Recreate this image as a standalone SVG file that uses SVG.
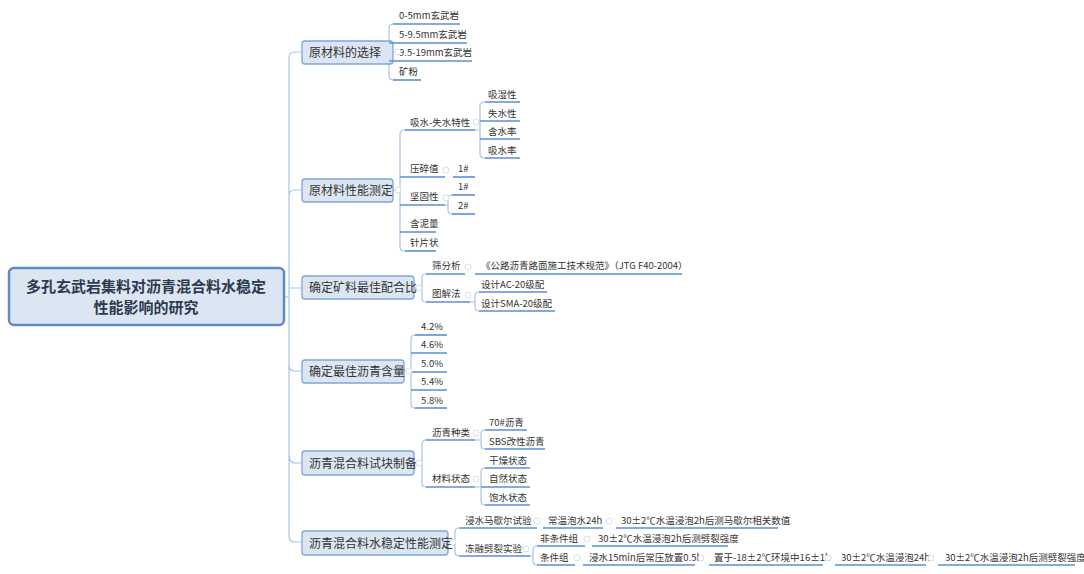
<svg xmlns="http://www.w3.org/2000/svg" width="1084" height="574" viewBox="0 0 1084 574">
<style>
text{font-family:"Microsoft YaHei","Noto Sans CJK SC",sans-serif;fill:#333}
.l{font-size:9.5px}
.b{font-size:12px}
.r{font-size:15px;font-weight:bold;fill:#2b3a4e}
.c{fill:none;stroke:#a8c3e6;stroke-width:1.2}
.u{stroke:#5b8fd6;stroke-width:1.6}
.bx{fill:#dce6f2;stroke:#7fa6d8;stroke-width:1.3}
.k{fill:#fff;stroke:#cfd8e3;stroke-width:0.8}
</style>
<rect width="1084" height="574" fill="#fff"/>
<g id="connectors">
<path class="c" d="M284,297 H289 M289,297 V58 Q289,52 295,52 H302 M289,297 V196 Q289,190 295,190 H302 M289,297 V536 Q289,542 295,542 H302 M289,297 V454 Q289,463 295,463 H302 M289,297 V365 Q289,371 295,371 H302 M289,288 Q289,288 295,288 H302"/>
<path class="c" d="M393,52 H389 M389,52 V28 Q389,24 393,24 M389,52 V43 M389,52 V61 M389,52 V76 Q389,80 393,80"/>
<path class="c" d="M393,190 H400 M400,190 V134 Q400,130 405,130 M400,190 V177 M400,190 V205 M400,190 V232 M400,190 V247 Q400,251 405,251"/>
<path class="c" d="M475,130 H480 M480,130 V106 Q480,102 485,102 M480,130 V121 M480,130 V139 M480,130 V154 Q480,158 485,158"/>
<path class="c" d="M445,205 H448 M448,205 V199 Q448,195 452,195 M448,205 V210 Q448,214 452,214"/>
<path class="c" d="M414,288 H422 M422,288 V278 Q422,274 426,274 M422,288 V298 Q422,302 426,302"/>
<path class="c" d="M470,302 H475 M475,302 V296 Q475,292 479,292 M475,302 V307 Q475,311 479,311"/>
<path class="c" d="M404,371 H411 M411,371 V339 Q411,335 415,335 M411,371 V353 M411,371 V390 M411,371 V404 Q411,408 415,408"/>
<path class="c" d="M414,463 H422 M422,463 V444 Q422,440 426,440 M422,463 V483 Q422,487 426,487"/>
<path class="c" d="M475,440 H481 M481,440 V434 Q481,430 485,430 M481,440 V445 Q481,449 485,449"/>
<path class="c" d="M475,487 H481 M481,487 V472 Q481,468 485,468 M481,487 V501 Q481,505 485,505"/>
<path class="c" d="M448,542 H455 M455,542 V532 Q455,528 459,528 M455,542 V552 Q455,556 459,556"/>
<path class="c" d="M530,556 H533 M533,556 V550 Q533,546 537,546 M533,556 V561 Q533,565 537,565"/>
</g>
<g id="root"><rect x="9" y="268" width="275" height="57" rx="5" fill="#dce6f2" stroke="#5b8bc9" stroke-width="2.5"/>
<text class="r" x="146" y="292" text-anchor="middle">多孔玄武岩集料对沥青混合料水稳定</text>
<text class="r" x="146" y="313" text-anchor="middle">性能影响的研究</text></g>
<g id="b1"><rect class="bx" x="302" y="41" width="91" height="23" rx="3"/><text class="b" x="309" y="57">原材料的选择</text></g>
<g id="b2"><rect class="bx" x="302" y="179" width="91" height="23" rx="3"/><text class="b" x="309" y="195">原材料性能测定</text></g>
<g id="b3"><rect class="bx" x="302" y="276" width="112" height="23" rx="3"/><text class="b" x="309" y="292">确定矿料最佳配合比</text></g>
<g id="b4"><rect class="bx" x="302" y="360" width="102" height="23" rx="3"/><text class="b" x="309" y="376">确定最佳沥青含量</text></g>
<g id="b5"><rect class="bx" x="302" y="451" width="112" height="24" rx="3"/><text class="b" x="309" y="468">沥青混合料试块制备</text></g>
<g id="b6"><rect class="bx" x="302" y="531" width="146" height="24" rx="3"/><text class="b" x="309" y="548">沥青混合料水稳定性能测定</text></g>
<g id="leaves">
<g id="n1"><text class="l" x="399" y="19">0-5mm玄武岩</text><line class="u" x1="393" y1="24" x2="460" y2="24"/></g>
<g id="n2"><text class="l" x="399" y="38">5-9.5mm玄武岩</text><line class="u" x1="389" y1="43" x2="467" y2="43"/></g>
<g id="n3"><text class="l" x="399" y="56">9.5-19mm玄武岩</text><line class="u" x1="389" y1="61" x2="472" y2="61"/></g>
<g id="n4"><text class="l" x="399" y="75">矿粉</text><line class="u" x1="393" y1="80" x2="421" y2="80"/></g>
<g id="n5"><text class="l" x="410" y="126">吸水-失水特性</text><line class="u" x1="405" y1="130" x2="475" y2="130"/></g>
<g id="n6"><text class="l" x="488" y="98">吸湿性</text><line class="u" x1="485" y1="102" x2="520" y2="102"/></g>
<g id="n7"><text class="l" x="488" y="117">失水性</text><line class="u" x1="480" y1="121" x2="520" y2="121"/></g>
<g id="n8"><text class="l" x="488" y="135">含水率</text><line class="u" x1="480" y1="139" x2="520" y2="139"/></g>
<g id="n9"><text class="l" x="488" y="154">吸水率</text><line class="u" x1="485" y1="158" x2="520" y2="158"/></g>
<g id="n10"><text class="l" x="410" y="172">压碎值</text><line class="u" x1="400" y1="177" x2="445" y2="177"/></g>
<g id="n11"><text class="l" x="458" y="172">1#</text><line class="u" x1="453" y1="177" x2="475" y2="177"/></g>
<g id="n12"><text class="l" x="410" y="200">坚固性</text><line class="u" x1="400" y1="205" x2="445" y2="205"/></g>
<g id="n13"><text class="l" x="458" y="190">1#</text><line class="u" x1="452" y1="195" x2="475" y2="195"/></g>
<g id="n14"><text class="l" x="458" y="209">2#</text><line class="u" x1="452" y1="214" x2="475" y2="214"/></g>
<g id="n15"><text class="l" x="410" y="227">含泥量</text><line class="u" x1="400" y1="232" x2="436" y2="232"/></g>
<g id="n16"><text class="l" x="410" y="246">针片状</text><line class="u" x1="405" y1="251" x2="436" y2="251"/></g>
<g id="n17"><text class="l" x="432" y="269">筛分析</text><line class="u" x1="426" y1="274" x2="465" y2="274"/></g>
<g id="n18"><text class="l" x="481" y="269">《公路沥青路面施工技术规范》（JTG  F40-2004）</text><line class="u" x1="475" y1="274" x2="682" y2="274"/></g>
<g id="n19"><text class="l" x="432" y="297">图解法</text><line class="u" x1="426" y1="302" x2="470" y2="302"/></g>
<g id="n20"><text class="l" x="481" y="288">设计AC-20级配</text><line class="u" x1="479" y1="292" x2="547" y2="292"/></g>
<g id="n21"><text class="l" x="481" y="307">设计SMA-20级配</text><line class="u" x1="479" y1="311" x2="555" y2="311"/></g>
<g id="n22"><text class="l" x="421" y="330">4.2%</text><line class="u" x1="415" y1="335" x2="447" y2="335"/></g>
<g id="n23"><text class="l" x="421" y="348">4.6%</text><line class="u" x1="411" y1="353" x2="447" y2="353"/></g>
<g id="n24"><text class="l" x="421" y="367">5.0%</text><line class="u" x1="411" y1="372" x2="447" y2="372"/></g>
<g id="n25"><text class="l" x="421" y="385">5.4%</text><line class="u" x1="411" y1="390" x2="447" y2="390"/></g>
<g id="n26"><text class="l" x="421" y="404">5.8%</text><line class="u" x1="415" y1="408" x2="447" y2="408"/></g>
<g id="n27"><text class="l" x="432" y="436">沥青种类</text><line class="u" x1="426" y1="440" x2="475" y2="440"/></g>
<g id="n28"><text class="l" x="489" y="426">70#沥青</text><line class="u" x1="485" y1="430" x2="527" y2="430"/></g>
<g id="n29"><text class="l" x="489" y="445">SBS改性沥青</text><line class="u" x1="485" y1="449" x2="545" y2="449"/></g>
<g id="n30"><text class="l" x="432" y="482">材料状态</text><line class="u" x1="426" y1="487" x2="475" y2="487"/></g>
<g id="n31"><text class="l" x="489" y="464">干燥状态</text><line class="u" x1="485" y1="468" x2="530" y2="468"/></g>
<g id="n32"><text class="l" x="489" y="482">自然状态</text><line class="u" x1="481" y1="487" x2="530" y2="487"/></g>
<g id="n33"><text class="l" x="489" y="501">饱水状态</text><line class="u" x1="485" y1="505" x2="530" y2="505"/></g>
<g id="n34"><text class="l" x="465" y="524">浸水马歇尔试验</text><line class="u" x1="459" y1="528" x2="537" y2="528"/></g>
<g id="n35"><text class="l" x="548" y="524">常温泡水24h</text><line class="u" x1="543" y1="528" x2="603" y2="528"/></g>
<g id="n36"><text class="l" x="621" y="524">30±2℃水温浸泡2h后测马歇尔相关数值</text><line class="u" x1="616" y1="528" x2="778" y2="528"/></g>
<g id="n37"><text class="l" x="465" y="552">冻融劈裂实验</text><line class="u" x1="459" y1="556" x2="530" y2="556"/></g>
<g id="n38"><text class="l" x="540" y="542">非条件组</text><line class="u" x1="537" y1="546" x2="585" y2="546"/></g>
<g id="n39"><text class="l" x="598" y="542">30±2℃水温浸泡2h后测劈裂强度</text><line class="u" x1="592" y1="546" x2="728" y2="546"/></g>
<g id="n40"><text class="l" x="540" y="561">条件组</text><line class="u" x1="537" y1="565" x2="575" y2="565"/></g>
<g id="n41"><text class="l" x="589" y="561">浸水15min后常压放置0.5h</text><line class="u" x1="583" y1="565" x2="695" y2="565"/></g>
<g id="n42"><text class="l" x="714" y="561">置于-18±2℃环境中16±1h</text><line class="u" x1="709" y1="565" x2="823" y2="565"/></g>
<g id="n43"><text class="l" x="841" y="561">30±2℃水温浸泡24h</text><line class="u" x1="835" y1="565" x2="926" y2="565"/></g>
<g id="n44"><text class="l" x="945" y="561">30±2℃水温浸泡2h后测劈裂强度</text><line class="u" x1="938" y1="565" x2="1075" y2="565"/></g>
</g>
<g id="toggles">
<circle class="k" cx="398" cy="52" r="3"/><circle class="k" cx="398" cy="190" r="3"/><circle class="k" cx="419" cy="288" r="3"/><circle class="k" cx="409" cy="371" r="3"/><circle class="k" cx="419" cy="463" r="3"/><circle class="k" cx="453" cy="542" r="3"/>
<circle class="k" cx="476" cy="122" r="3"/><circle class="k" cx="446" cy="170" r="3"/><circle class="k" cx="446" cy="198" r="3"/><circle class="k" cx="468" cy="267" r="3"/><circle class="k" cx="468" cy="295" r="3"/><circle class="k" cx="476" cy="433" r="3"/><circle class="k" cx="476" cy="479" r="3"/><circle class="k" cx="537" cy="521" r="3"/><circle class="k" cx="609" cy="521" r="3"/><circle class="k" cx="526" cy="549" r="3"/><circle class="k" cx="587" cy="539" r="3"/><circle class="k" cx="577" cy="558" r="3"/><circle class="k" cx="701" cy="558" r="3"/><circle class="k" cx="828" cy="558" r="3"/><circle class="k" cx="931" cy="558" r="3"/>
</g>
</svg>
